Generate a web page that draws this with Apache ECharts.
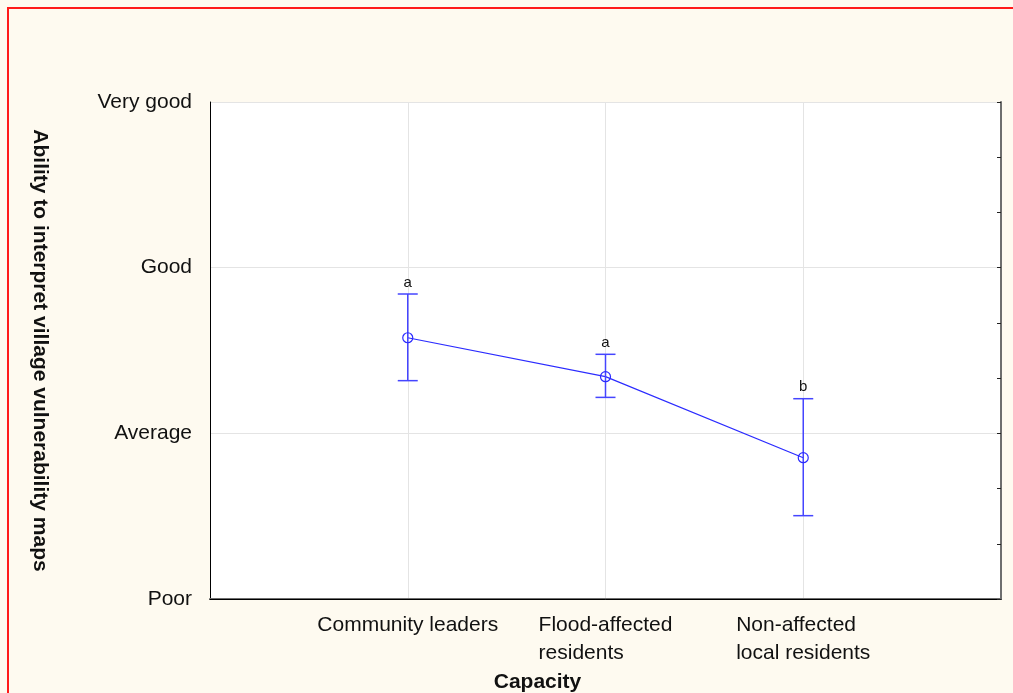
<!DOCTYPE html>
<html>
<head>
<meta charset="utf-8">
<script src="https://cdn.jsdelivr.net/npm/echarts@6/dist/echarts.min.js"></script>
<style>
  html, body { margin: 0; padding: 0; background: #fefaf0; }
  #chart { width: 1013px; height: 693px; }
</style>
</head>
<body>
<div id="chart"></div>
<script>
// Group names along the x axis (placed at positions 1..3)
const categories = ['Community leaders', 'Flood-affected\nresidents', 'Non-affected\nlocal residents'];
// Rating scale labels for y values 1..4
const ratingLabels = ['Poor', 'Average', 'Good', 'Very good'];
// Group means with upper / lower error bounds
const means = [2.577, 2.342, 1.853];
const upper = [2.841, 2.477, 2.209];
const lower = [2.318, 2.217, 1.503];
// Significance letters shown above each bar
const groupLetters = ['a', 'a', 'b'];

const blue = '#2b2bff';
const barBlue = '#4545ff';
const font = '"Liberation Sans", Arial, sans-serif';

const pointData = means.map((m, i) => [i + 1, m]);
const barData = means.map((m, i) => [i + 1, m, lower[i], upper[i], groupLetters[i]]);

const chart = echarts.init(document.getElementById('chart'));
chart.setOption({
  backgroundColor: '#fefaf0',
  animation: false,
  graphic: [{
    type: 'rect',
    shape: { x: 8, y: 8, width: 1020, height: 700 },
    style: { fill: null, stroke: '#ff1a1a', lineWidth: 2 },
    z: 100
  }],
  grid: {
    left: 210, top: 102, right: 12, bottom: 94,
    outerBoundsMode: 'none', containLabel: false,
    show: true, backgroundColor: '#ffffff', borderWidth: 0
  },
  xAxis: [{
    type: 'value', min: 0, max: 4, interval: 1,
    axisLine: { show: true, onZero: false, lineStyle: { color: '#6e6e6e', width: 2 } },
    axisTick: { show: false },
    splitLine: { show: true, lineStyle: { color: '#e4e4e4', width: 1 } },
    axisLabel: {
      margin: 12,
      fontFamily: font, fontSize: 21, color: '#111', lineHeight: 28,
      formatter: v => {
        const c = categories[v - 1];
        if (!c) return '';
        return c.split('\n').map(s => '{l|' + s + '}').join('\n');
      },
      rich: { l: { align: 'left', fontFamily: font, fontSize: 21, color: '#111', lineHeight: 28 } }
    },
    name: 'Capacity', nameLocation: 'middle', nameGap: 67,
    nameTextStyle: { fontFamily: font, fontSize: 21, fontWeight: 'bold', color: '#111', padding: [0, 136, 0, 0] }
  }, {
    type: 'value', min: 0, max: 4, position: 'top',
    axisLine: { show: true, lineStyle: { color: '#000', width: 1 } },
    axisTick: { show: false }, axisLabel: { show: false }, splitLine: { show: false }
  }],
  yAxis: [{
    type: 'value', min: 1, max: 4, interval: 1,
    axisLine: { show: true, onZero: false, lineStyle: { color: '#000', width: 1 } },
    axisTick: { show: false },
    splitLine: { show: true, lineStyle: { color: '#e4e4e4', width: 1 } },
    axisLabel: {
      margin: 18, fontFamily: font, fontSize: 21, color: '#111',
      formatter: v => ratingLabels[v - 1] || ''
    },
    name: 'Ability to interpret village vulnerability maps',
    nameLocation: 'middle', nameGap: 160, nameRotate: -90,
    nameTextStyle: { fontFamily: font, fontSize: 21, fontWeight: 'bold', color: '#111' }
  }, {
    // right-hand frame with inward ticks at thirds of a rating step
    type: 'value', min: 0, max: 9, interval: 1, position: 'right',
    axisLine: { show: true, onZero: false, lineStyle: { color: '#6e6e6e', width: 2 } },
    axisTick: { show: true, inside: true, length: 4, lineStyle: { color: '#222', width: 1 } },
    axisLabel: { show: false }, splitLine: { show: false }
  }],
  series: [{
    type: 'line',
    xAxisIndex: 0, yAxisIndex: 0,
    data: pointData,
    z: 3,
    symbol: 'none',
    lineStyle: { color: blue, width: 1.2 }
  }, {
    type: 'custom',
    xAxisIndex: 0, yAxisIndex: 0,
    data: barData,
    z: 4,
    renderItem: (params, api) => {
      const x = api.value(0);
      const mid = api.coord([x, api.value(1)]);
      const lo = api.coord([x, api.value(2)]);
      const hi = api.coord([x, api.value(3)]);
      const half = 10;
      const style = { stroke: barBlue, lineWidth: 1.5 };
      return {
        type: 'group',
        children: [
          { type: 'line', shape: { x1: hi[0], y1: hi[1], x2: lo[0], y2: lo[1] }, style },
          { type: 'line', shape: { x1: hi[0] - half, y1: hi[1], x2: hi[0] + half, y2: hi[1] }, style },
          { type: 'line', shape: { x1: lo[0] - half, y1: lo[1], x2: lo[0] + half, y2: lo[1] }, style },
          { type: 'circle', shape: { cx: mid[0], cy: mid[1], r: 5 }, style: { fill: null, stroke: blue, lineWidth: 1.2 } },
          {
            type: 'text',
            style: {
              x: hi[0], y: hi[1] - 4,
              text: barData[params.dataIndex][4],
              align: 'center', verticalAlign: 'bottom',
              font: '15px ' + font, fill: '#111'
            }
          }
        ]
      };
    }
  }]
});
</script>
</body>
</html>
